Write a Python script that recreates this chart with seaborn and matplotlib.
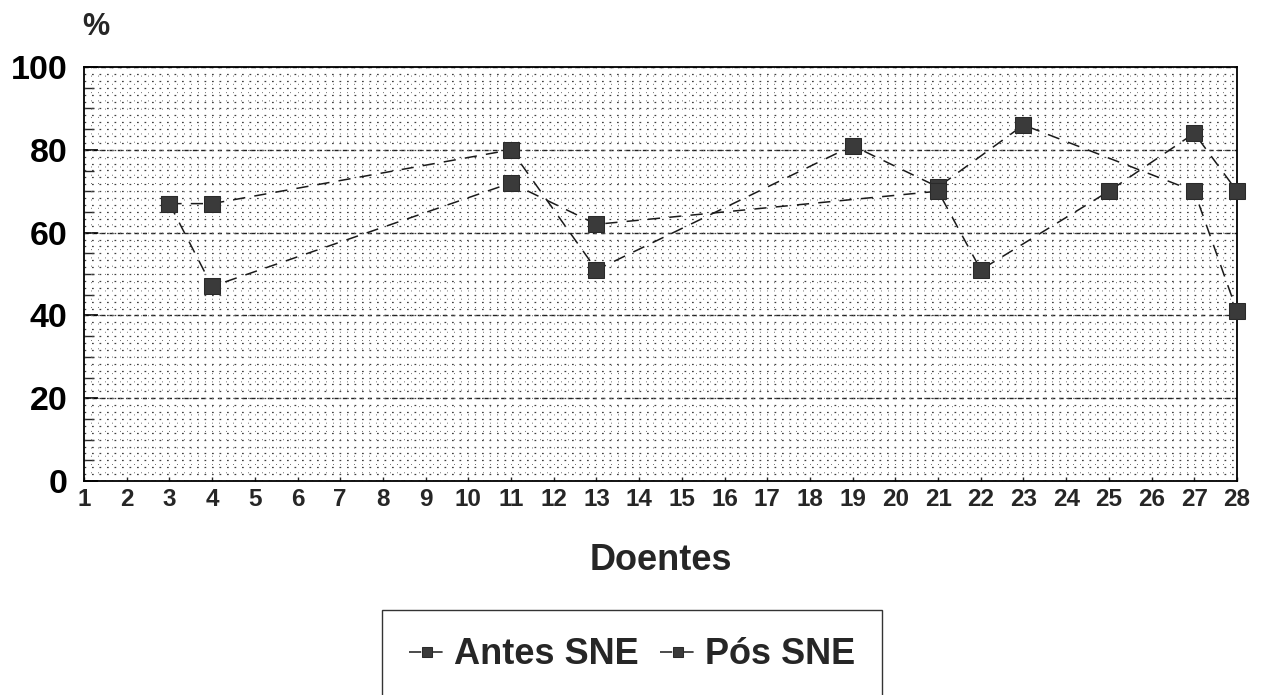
import numpy as np
import pandas as pd
import matplotlib
matplotlib.use("Agg")
import matplotlib.pyplot as plt
import seaborn as sns
from matplotlib.ticker import MultipleLocator

# ---- data ----
doentes_antes = [3, 4, 11, 13, 19, 21, 23, 27, 28]
valores_antes = [67, 67, 80, 51, 81, 71, 86, 70, 41]
doentes_pos = [3, 4, 11, 13, 21, 22, 25, 27, 28]
valores_pos = [67, 47, 72, 62, 70, 51, 70, 84, 70]
series_labels = ["Antes SNE", "Pós SNE"]
x_ticks = list(range(1, 29))
y_ticks = [0, 20, 40, 60, 80, 100]

df = pd.concat([
    pd.DataFrame({"Doentes": doentes_antes, "valor": valores_antes, "serie": series_labels[0]}),
    pd.DataFrame({"Doentes": doentes_pos, "valor": valores_pos, "serie": series_labels[1]}),
], ignore_index=True)

sns.set_theme(style="white")
plt.rcParams["font.family"] = ["Liberation Sans", "DejaVu Sans"]
plt.rcParams["font.weight"] = "bold"

W, H = 1265, 695
fig = plt.figure(figsize=(W / 100, H / 100), dpi=100)
fig.patch.set_facecolor("white")
left, right, top, bottom = 84, 1237, 67, 481
ax = fig.add_axes([left / W, 1 - bottom / H, (right - left) / W, (bottom - top) / H])
ax.set_facecolor("white")

ax.set_xlim(1, 28)
ax.set_ylim(0, 100)

# fine dotted background grid (scanned-paper look)
fine_rows = np.arange(20 / 12, 100, 20 / 12)
ax.hlines(fine_rows, 1, 28, colors="#404040", linewidth=0.9,
          linestyles=(0, (1.4, 4.6)), zorder=1)
fine_cols = np.arange(1 + 1 / 6, 28, 1 / 6)
ax.vlines(fine_cols, 0, 100, colors="#707070", linewidth=0.7,
          linestyles=(0, (1.0, 7.5)), zorder=1)

# major grid
ax.set_yticks(y_ticks)
ax.yaxis.set_minor_locator(MultipleLocator(5))
ax.grid(axis="y", which="major", color="#222222", linewidth=1.0,
        linestyle=(0, (3, 3)), zorder=2)
ax.grid(axis="x", visible=False)

sns.lineplot(data=df, x="Doentes", y="valor", hue="serie", style="serie",
             palette=["#1a1a1a", "#1a1a1a"], markers=["s", "s"],
             dashes=[(8, 6), (8, 6)], markersize=11,
             markerfacecolor="#3a3a3a", markeredgecolor="#2a2a2a",
             linewidth=1.1, estimator=None, sort=True, ax=ax, zorder=5,
             clip_on=False)

handles, labels = ax.get_legend_handles_labels()
if ax.get_legend() is not None:
    ax.get_legend().remove()

ax.set_xticks(x_ticks)
ax.set_xticklabels([str(t) for t in x_ticks])
ax.set_yticklabels([str(t) for t in y_ticks])
ax.tick_params(axis="y", which="major", direction="in", length=10, width=1.2,
               labelsize=24.5, pad=12, colors="black", left=True)
ax.tick_params(axis="y", which="minor", direction="in", length=7, width=1.0,
               left=True)
ax.tick_params(axis="x", which="major", direction="in", length=3, width=1.0,
               labelsize=17.5, pad=5, bottom=True)
for lab in ax.get_xticklabels() + ax.get_yticklabels():
    lab.set_fontweight("bold")

for s in ax.spines.values():
    s.set_visible(True)
    s.set_color("black")
    s.set_linewidth(1.3)

ax.set_ylabel("")
ax.set_xlabel("Doentes", fontsize=26, fontweight="bold", labelpad=23)

fig.text(96 / W, 1 - 27 / H, "%", ha="center", va="center",
         fontsize=22, fontweight="bold")

leg = fig.legend(handles, labels, loc="center",
                 bbox_to_anchor=(632 / W, 1 - 655 / H), ncol=2,
                 frameon=True, fancybox=False, edgecolor="black",
                 fontsize=26, handlelength=1.0, handletextpad=0.25,
                 columnspacing=0.6, borderpad=0.75, markerscale=0.7,
                 borderaxespad=0)
leg.get_frame().set_linewidth(1.0)
for t in leg.get_texts():
    t.set_fontweight("bold")

fig.savefig("out.png", dpi=100, facecolor="white")
